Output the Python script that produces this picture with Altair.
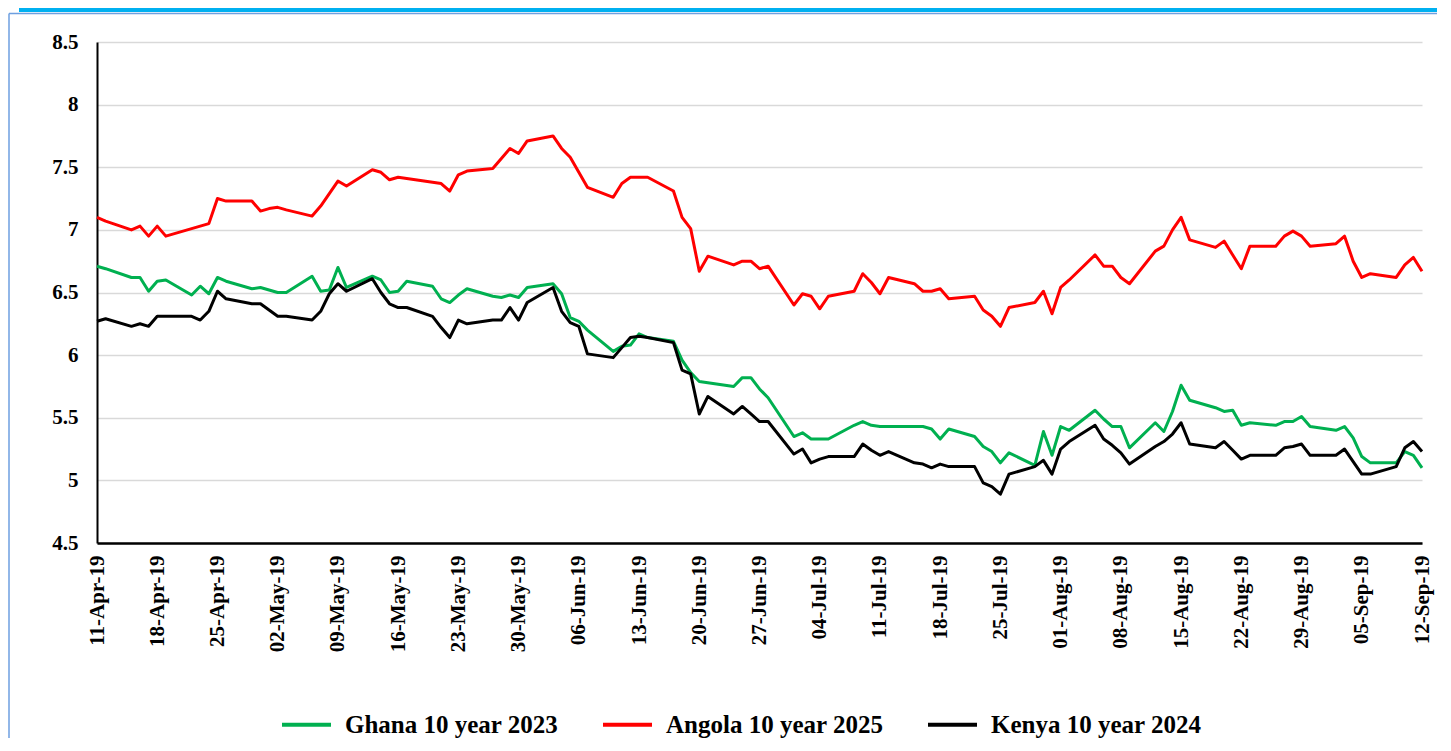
import altair as alt
import pandas as pd

# Business days shown on the chart (month -> days), 2019
apr_days = [11, 12, 15, 16, 17, 18, 19, 22, 23, 24, 25, 26, 29, 30]
may_days = [1, 2, 3, 6, 7, 8, 9, 10, 13, 14, 15, 16, 17, 20, 21, 22, 23, 24, 27, 28, 29, 30, 31]
jun_days = [3, 4, 5, 6, 7, 10, 11, 12, 13, 14, 17, 18, 19, 20, 21, 24, 25, 26, 27, 28]
jul_days = [1, 2, 3, 4, 5, 8, 9, 10, 11, 12, 15, 16, 17, 18, 19, 22, 23, 24, 25, 26, 29, 30, 31]
aug_days = [1, 2, 5, 6, 7, 8, 9, 12, 13, 14, 15, 16, 19, 20, 21, 22, 23, 26, 27, 28, 29, 30]
sep_days = [2, 3, 4, 5, 6, 9, 10, 11, 12]

ghana = [
    6.71, 6.69, 6.62, 6.62, 6.51, 6.59, 6.60, 6.48, 6.55, 6.49, 6.62, 6.59, 6.53, 6.54,
    6.52, 6.50, 6.50, 6.63, 6.51, 6.52, 6.70, 6.54, 6.63, 6.60, 6.50, 6.51, 6.59, 6.55, 6.45, 6.42, 6.48, 6.53, 6.47, 6.46, 6.48, 6.46, 6.54,
    6.57, 6.49, 6.30, 6.27, 6.20, 6.03, 6.07, 6.08, 6.17, 6.14, 6.11, 5.96, 5.86, 5.79, 5.78, 5.75, 5.82, 5.82, 5.73, 5.66,
    5.35, 5.38, 5.33, 5.33, 5.33, 5.44, 5.47, 5.44, 5.43, 5.43, 5.43, 5.43, 5.41, 5.33, 5.41, 5.35, 5.27, 5.23, 5.14, 5.22, 5.12, 5.39, 5.20,
    5.43, 5.40, 5.56, 5.49, 5.43, 5.43, 5.26, 5.46, 5.39, 5.55, 5.76, 5.64, 5.58, 5.55, 5.56, 5.44, 5.46, 5.44, 5.47, 5.47, 5.51, 5.43,
    5.40, 5.43, 5.34, 5.19, 5.14, 5.14, 5.23, 5.20, 5.10,
]
angola = [
    7.10, 7.07, 7.00, 7.03, 6.95, 7.03, 6.95, 7.01, 7.03, 7.05, 7.25, 7.23, 7.23, 7.15,
    7.17, 7.18, 7.16, 7.11, 7.19, 7.29, 7.39, 7.35, 7.48, 7.46, 7.40, 7.42, 7.41, 7.38, 7.37, 7.31, 7.44, 7.47, 7.49, 7.57, 7.65, 7.61, 7.71,
    7.75, 7.65, 7.58, 7.46, 7.34, 7.26, 7.37, 7.42, 7.42, 7.42, 7.31, 7.10, 7.01, 6.67, 6.79, 6.72, 6.75, 6.75, 6.69, 6.71,
    6.40, 6.49, 6.47, 6.37, 6.47, 6.51, 6.65, 6.58, 6.49, 6.62, 6.57, 6.51, 6.51, 6.53, 6.45, 6.47, 6.36, 6.31, 6.23, 6.38, 6.42, 6.51, 6.33,
    6.54, 6.60, 6.80, 6.71, 6.71, 6.62, 6.57, 6.83, 6.87, 7.00, 7.10, 6.92, 6.86, 6.91, 6.80, 6.69, 6.87, 6.87, 6.95, 6.99, 6.95, 6.87,
    6.89, 6.95, 6.75, 6.62, 6.65, 6.62, 6.72, 6.78, 6.67,
]
kenya = [
    6.27, 6.29, 6.23, 6.25, 6.23, 6.31, 6.31, 6.31, 6.28, 6.35, 6.51, 6.45, 6.41, 6.41,
    6.36, 6.31, 6.31, 6.28, 6.35, 6.49, 6.57, 6.51, 6.61, 6.50, 6.41, 6.38, 6.38, 6.31, 6.22, 6.14, 6.28, 6.25, 6.28, 6.28, 6.38, 6.28, 6.42,
    6.54, 6.35, 6.26, 6.23, 6.01, 5.98, 6.06, 6.14, 6.15, 6.14, 6.10, 5.88, 5.85, 5.53, 5.67, 5.53, 5.59, 5.53, 5.47, 5.47,
    5.21, 5.25, 5.14, 5.17, 5.19, 5.19, 5.29, 5.24, 5.20, 5.23, 5.14, 5.13, 5.10, 5.13, 5.11, 5.11, 4.98, 4.95, 4.89, 5.05, 5.11, 5.16, 5.05,
    5.25, 5.31, 5.44, 5.33, 5.28, 5.22, 5.13, 5.27, 5.31, 5.37, 5.46, 5.29, 5.26, 5.31, 5.24, 5.17, 5.20, 5.20, 5.26, 5.27, 5.29, 5.20,
    5.20, 5.25, 5.15, 5.05, 5.05, 5.11, 5.26, 5.31, 5.23,
]

series_names = ["Ghana 10 year 2023", "Angola 10 year 2025", "Kenya 10 year 2024"]
series_colors = ["#00B050", "#FF0000", "#000000"]

# weekly x tick labels (month, day)
x_ticks = [(4, 11), (4, 18), (4, 25), (5, 2), (5, 9), (5, 16), (5, 23), (5, 30),
           (6, 6), (6, 13), (6, 20), (6, 27), (7, 4), (7, 11), (7, 18), (7, 25),
           (8, 1), (8, 8), (8, 15), (8, 22), (8, 29), (9, 5), (9, 12)]
y_ticks = [4.5, 5, 5.5, 6, 6.5, 7, 7.5, 8, 8.5]

month_days = [(4, apr_days), (5, may_days), (6, jun_days), (7, jul_days), (8, aug_days), (9, sep_days)]
dates = [f"2019-{m:02d}-{d:02d}T00:00:00" for m, days in month_days for d in days]

rows = []
for name, vals in zip(series_names, [ghana, angola, kenya]):
    for dt, v in zip(dates, vals):
        rows.append({"date": dt, "series": name, "value": v})
df = pd.DataFrame(rows)

FONT = "'Liberation Serif', 'Times New Roman', Times, serif"

lines = alt.Chart(df).mark_line(strokeWidth=3, strokeJoin="round").encode(
    x=alt.X(
        "date:T",
        title=None,
        scale=alt.Scale(domain=[alt.DateTime(year=2019, month=4, date=11),
                                alt.DateTime(year=2019, month=9, date=12)]),
        axis=alt.Axis(
            values=[alt.DateTime(year=2019, month=m, date=d) for m, d in x_ticks],
            format="%d-%b-%y",
            labelAngle=270,
            labelPadding=12,
            labelOverlap=False,
            labelFlush=False,
            labelBound=False,
            ticks=False,
            grid=False,
            domainColor="#000000",
            domainWidth=2.5,
        ),
    ),
    y=alt.Y(
        "value:Q",
        title=None,
        scale=alt.Scale(domain=[4.5, 8.5], nice=False, zero=False),
        axis=alt.Axis(
            values=y_ticks,
            format="~g",
            labelPadding=19,
            ticks=False,
            grid=True,
            gridColor="#D9D9D9",
            gridWidth=1.5,
            domainColor="#000000",
            domainWidth=2,
        ),
    ),
    color=alt.Color(
        "series:N",
        title=None,
        sort=series_names,
        scale=alt.Scale(domain=series_names, range=series_colors),
        legend=alt.Legend(
            orient="none",
            legendX=183,
            legendY=656,
            direction="horizontal",
            symbolType="stroke",
            symbolSize=2401,
            symbolStrokeWidth=4,
            labelFont=FONT,
            labelFontSize=25,
            labelFontWeight="bold",
            labelColor="#000000",
            labelOffset=12,
            labelLimit=400,
            columnPadding=36,
            padding=0,
        ),
    ),
)

frame_df = pd.DataFrame({"k": [0]})
cyan_bar = alt.Chart(frame_df).mark_rect(color="#00B0F0").encode(
    x=alt.value(-78), x2=alt.value(1345), y=alt.value(-34), y2=alt.value(-30)
)
top_border = alt.Chart(frame_df).mark_rule(color="#6E9FE0", strokeWidth=1.5).encode(
    x=alt.value(-88), x2=alt.value(1345), y=alt.value(-28.5)
)
left_border = alt.Chart(frame_df).mark_rule(color="#6E9FE0", strokeWidth=1.5).encode(
    x=alt.value(-88), y=alt.value(-28.5), y2=alt.value(720)
)

chart = alt.layer(cyan_bar, top_border, left_border, lines).properties(
    width=1325,
    height=501,
    autosize=alt.AutoSizeParams(type="none"),
    padding={"left": 89, "top": 34, "right": 15, "bottom": 195},
    background="white",
).configure_view(
    strokeWidth=0
).configure_axis(
    labelFont=FONT,
    labelFontWeight="bold",
    labelFontSize=21,
    labelColor="#000000",
)

chart.save("out.html", embed_options={"renderer": "svg", "actions": False})
